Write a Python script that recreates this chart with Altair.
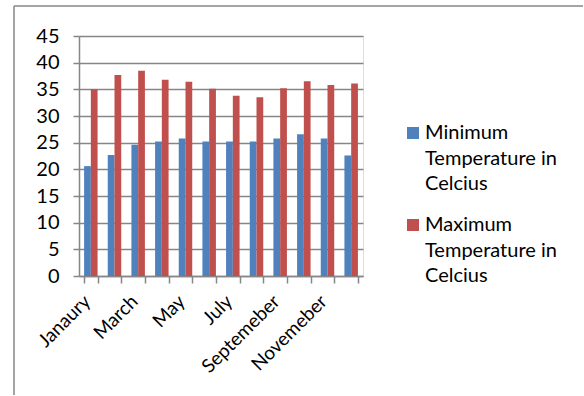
import altair as alt
import pandas as pd

# Monthly temperature readings (°C)
months = ["Janaury", "February", "March", "April", "May", "June",
          "July", "August", "Septemeber", "October", "Novemeber", "December"]
shown_months = ["Janaury", "March", "May", "July", "Septemeber", "Novemeber"]
min_temp = [20.6, 22.7, 24.6, 25.2, 25.8, 25.2, 25.2, 25.2, 25.8, 26.6, 25.8, 22.6]
max_temp = [35.0, 37.7, 38.5, 36.8, 36.4, 35.1, 33.8, 33.5, 35.2, 36.5, 35.8, 36.1]
series = ["Minimum Temperature in Celcius", "Maximum Temperature in Celcius"]
colors = ["#4F81BD", "#C0504D"]
y_ticks = list(range(0, 46, 5))

rows = []
for m, lo, hi in zip(months, min_temp, max_temp):
    rows.append({"month": m, "series": series[0], "temp": lo})
    rows.append({"month": m, "series": series[1], "temp": hi})
df = pd.DataFrame(rows)

FONT = "Lato"
FS = 20
GRID = "#868686"

label_expr = "indexof([" + ",".join(f"'{m}'" for m in shown_months) + "], datum.value) >= 0 ? datum.value : ''"

bars = alt.Chart(df).mark_bar().encode(
    x=alt.X(
        "month:N", sort=months,
        scale=alt.Scale(paddingInner=0.43, paddingOuter=0.215),
        axis=alt.Axis(
            title=None, labelAngle=-45, labelAlign="right", labelBaseline="middle",
            tickBand="extent", labelExpr=label_expr, labelFont=FONT, labelFontSize=19,
            labelColor="#000000", labelPadding=15, labelOffset=-4, tickSize=7,
            tickColor=GRID, tickWidth=1.5, domainColor=GRID, domainWidth=1.5,
            grid=False, labelOverlap=False,
        ),
    ),
    xOffset=alt.XOffset("series:N", sort=series,
                        scale=alt.Scale(paddingInner=0, paddingOuter=0)),
    y=alt.Y(
        "temp:Q",
        scale=alt.Scale(domain=[0, 45], nice=False),
        axis=alt.Axis(
            title=None, values=y_ticks, labelFont=FONT, labelFontSize=FS,
            labelColor="#000000", labelPadding=14, tickSize=6, tickColor=GRID,
            tickWidth=1.5, domainColor=GRID, domainWidth=1.5, gridColor=GRID,
            gridWidth=1.5,
        ),
    ),
    color=alt.Color(
        "series:N", sort=series,
        scale=alt.Scale(domain=series, range=colors),
        legend=alt.Legend(
            title=None, orient="none", legendX=324, legendY=87,
            symbolType="square", symbolSize=144, symbolStrokeWidth=0,
            labelFont=FONT, labelFontSize=FS, labelColor="#000000",
            labelOffset=2, rowPadding=21, padding=0, labelLimit=300,
            labelExpr="[slice(datum.label, 0, 7), slice(datum.label, 8, 22), slice(datum.label, 23)]",
        ),
    ),
)

frame_src = pd.DataFrame({"k": [0]})
frame_left = alt.Chart(frame_src).mark_rule(color=GRID, strokeWidth=1.5).encode(
    x=alt.value(-65), y=alt.value(-30), y2=alt.value(359)
)
frame_top = alt.Chart(frame_src).mark_rule(color=GRID, strokeWidth=1.5).encode(
    x=alt.value(-65), x2=alt.value(504), y=alt.value(-30)
)

chart = alt.layer(frame_left, frame_top, bars).properties(
    width=284, height=240,
    padding={"left": 13, "top": 5, "right": 0, "bottom": 0},
    background="white",
).configure_view(stroke=None).configure(
    style={"guide-label": {"lineHeight": 25.5}}
)

chart.save("out.html", embed_options={"renderer": "svg", "actions": False})
